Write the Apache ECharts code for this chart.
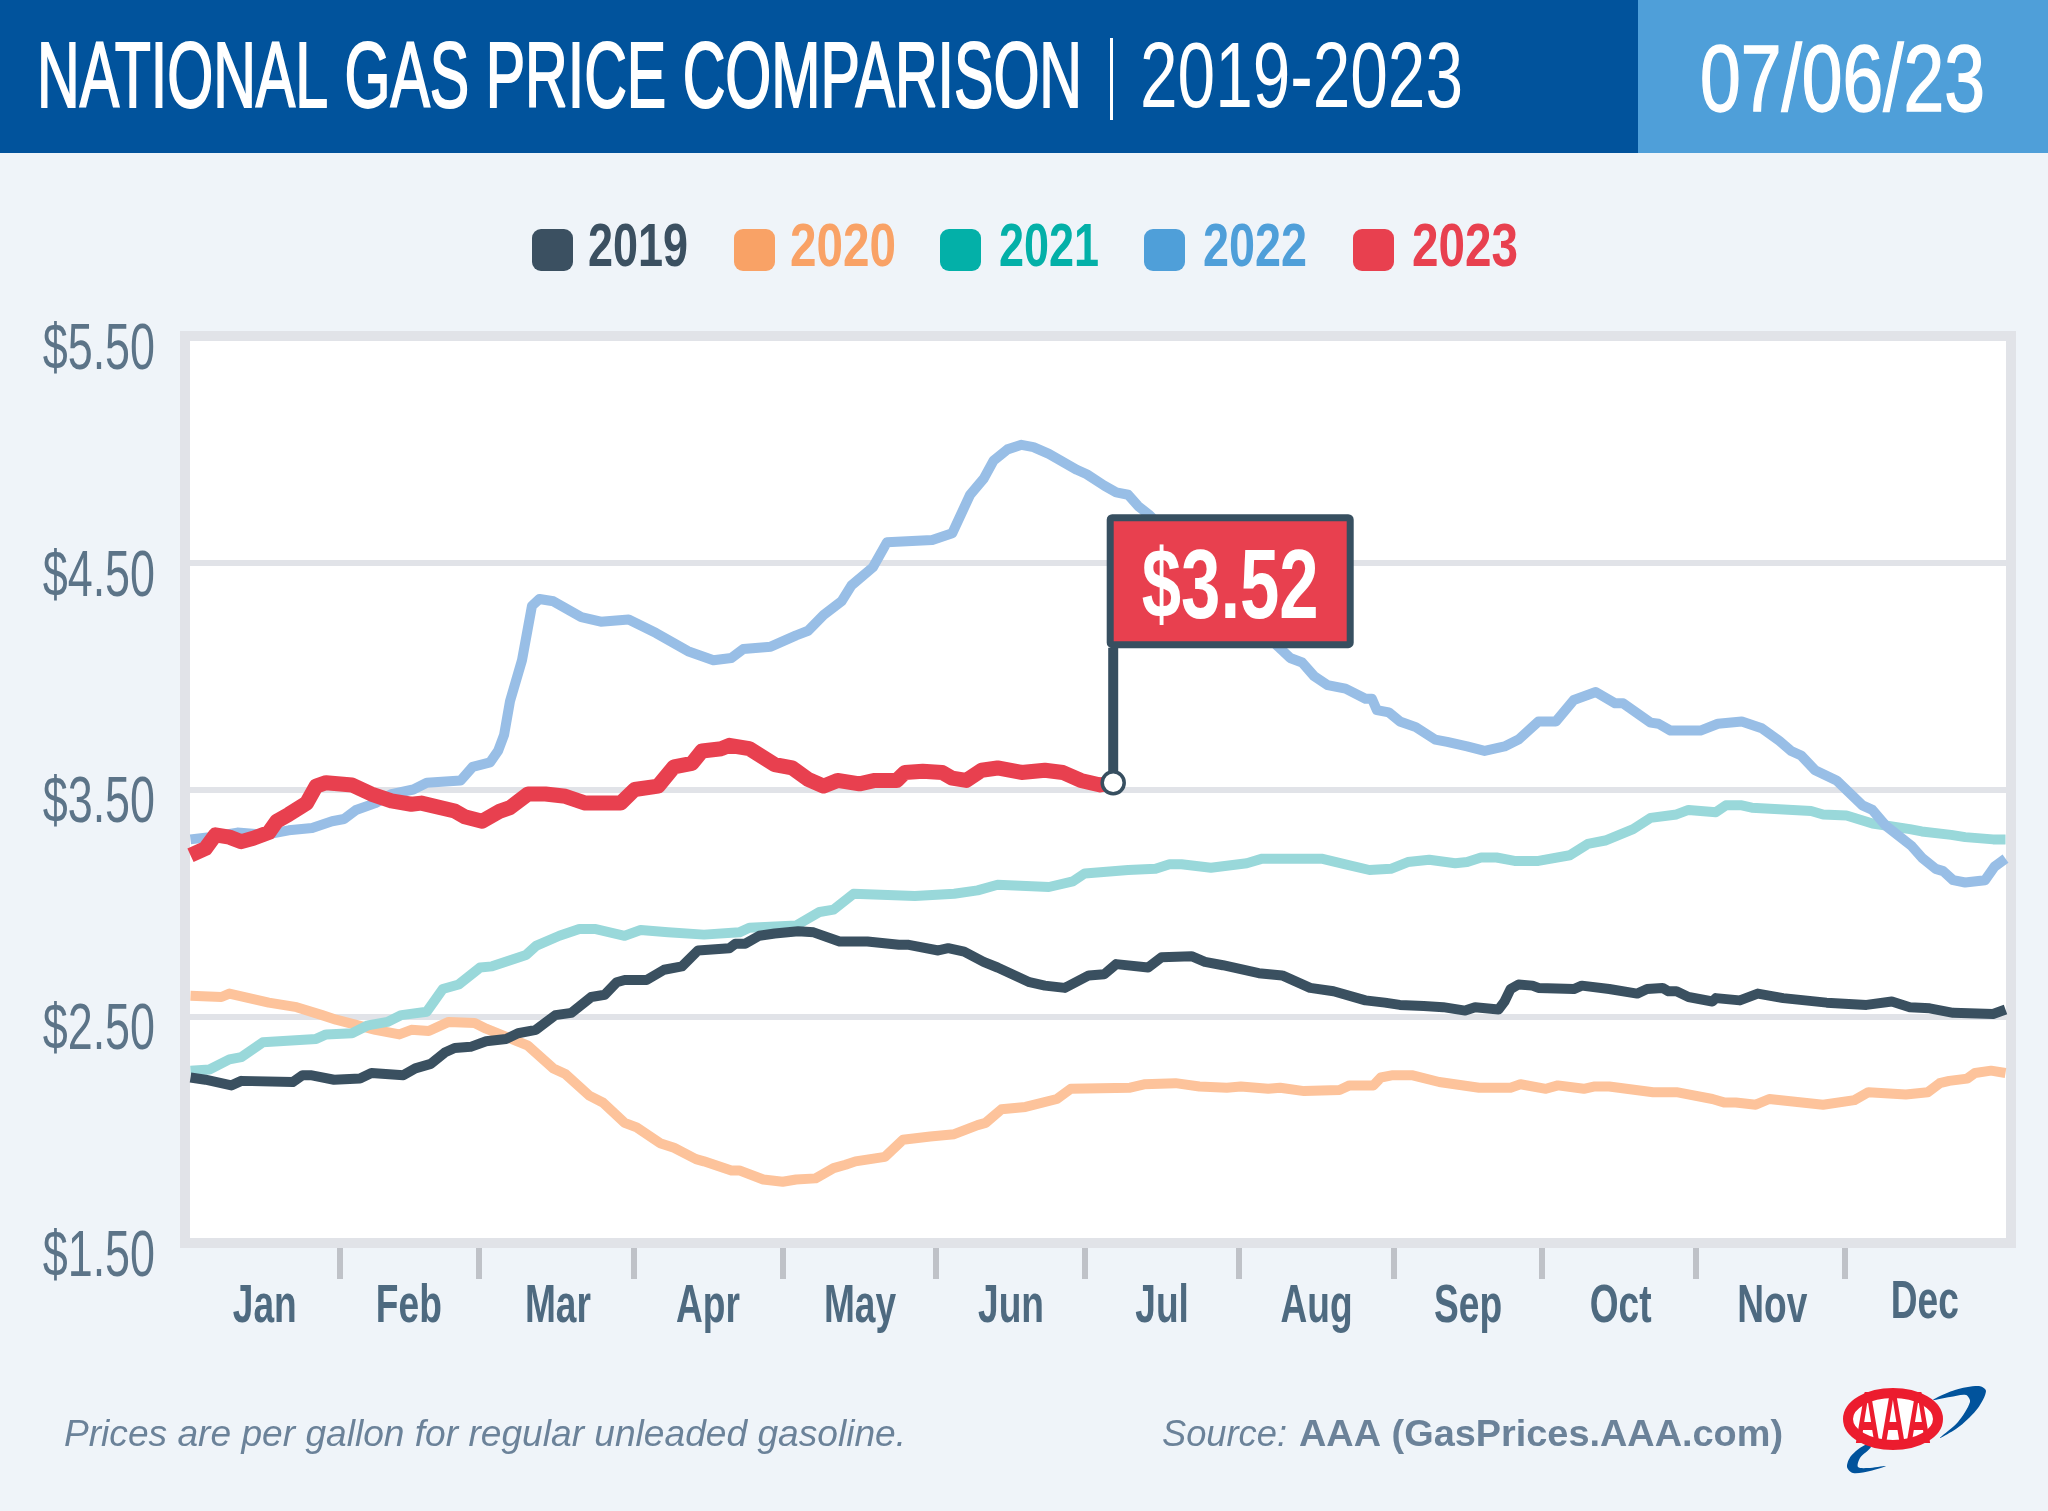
<!DOCTYPE html>
<html>
<head>
<meta charset="utf-8">
<title>National Gas Price Comparison</title>
<script src="https://cdn.jsdelivr.net/npm/echarts@6/dist/echarts.min.js"></script>
<style>
  html, body { margin: 0; padding: 0; background: #eff4f9; }
  #chart { width: 2048px; height: 1511px; }
</style>
</head>
<body>
<div id="chart"></div>
<script>
// 读图估算的数据：x 为一年中的第几天，y 为每加仑油价
const days2019 = [1.1,4.1,9.3,11.3,21.6,23.6,25.2,29.9,35.1,37.4,43.8,46.2,49.3,52.1,54.1,57.3,60.4,64.4,66.8,70.4,74.3,77.5,81.5,84.2,86.6,88.2,92.6,96.1,99.7,102.9,109.2,110.4,112.4,115.2,118.3,123,126.1,131.3,136.9,143.2,145.2,151.1,153.1,156.3,160.2,163,169.4,172.5,176.5,181.3,184.4,186.8,193.2,195.9,201.9,204.6,208.2,215.4,220.1,225.7,230.4,236.8,240.7,243.7,248.5,252.4,256.8,258.8,263.5,264.7,265.9,267.5,270.3,271.5,278.6,280.2,285.7,291.3,293.3,296.4,297.6,299.2,301.6,306.4,307.1,311.9,315.5,320.6,329.3,337.3,342.4,346,350,354.7,362.7,365.2];
const prices2019 = [2.23,2.22,2.195,2.215,2.21,2.24,2.24,2.22,2.225,2.25,2.24,2.27,2.29,2.34,2.36,2.365,2.39,2.40,2.425,2.44,2.505,2.515,2.585,2.595,2.65,2.66,2.66,2.705,2.72,2.79,2.80,2.82,2.82,2.855,2.865,2.875,2.87,2.83,2.83,2.815,2.815,2.79,2.80,2.785,2.74,2.715,2.65,2.635,2.625,2.68,2.685,2.73,2.715,2.76,2.765,2.74,2.725,2.69,2.68,2.625,2.61,2.57,2.56,2.55,2.545,2.54,2.525,2.54,2.53,2.565,2.62,2.64,2.635,2.625,2.62,2.635,2.62,2.60,2.62,2.625,2.61,2.61,2.585,2.565,2.58,2.57,2.60,2.58,2.56,2.55,2.565,2.54,2.535,2.515,2.51,2.53];

const days2020 = [1.1,7.3,8.9,16.8,22.4,27.5,30.3,38.2,43,45.4,48.9,52.9,58.1,60.4,68.8,73.9,76.3,81.1,83.8,88.2,90.6,95.3,98.1,102.5,104.1,109.6,111.2,116,119.9,122.6,126.5,130.1,132.5,134.5,140.4,144,149.5,154.3,159,160.6,163.8,168.6,174.9,177.7,189.6,192.4,198.7,203.5,209,211.8,217.3,219.7,224.5,231.6,233.6,238.4,239.9,242.3,246.1,251.6,259.6,265.9,267.9,273,275.4,280.6,282.6,285.7,294.5,299.2,306.4,308.7,311.1,315.1,317.8,328.6,334.9,337.7,345.2,349.6,352,353.9,357.5,359.1,362.3,365.2];
const prices2020 = [2.59,2.585,2.60,2.56,2.54,2.505,2.485,2.44,2.42,2.44,2.435,2.475,2.47,2.445,2.37,2.27,2.245,2.15,2.12,2.03,2.01,1.94,1.92,1.87,1.86,1.82,1.82,1.78,1.77,1.78,1.785,1.83,1.845,1.86,1.88,1.955,1.97,1.98,2.02,2.03,2.09,2.10,2.135,2.18,2.185,2.20,2.205,2.19,2.185,2.19,2.18,2.185,2.17,2.175,2.195,2.195,2.23,2.24,2.24,2.21,2.185,2.185,2.20,2.18,2.195,2.18,2.19,2.19,2.165,2.165,2.135,2.12,2.12,2.11,2.135,2.11,2.13,2.165,2.155,2.165,2.205,2.215,2.225,2.25,2.26,2.25];

const days2021 = [1.1,4.9,8.9,11.3,15.6,26.3,28.3,33.5,36.7,40.6,43.4,48.5,51.7,54.9,59.2,61.6,68.4,70.4,75.1,79.1,82.2,88.2,91.4,96.9,104.1,111.2,113.2,122.6,127.3,130.1,134.1,146.4,154.3,159,163,173.3,178.1,180.5,189.2,194.7,197.5,199.9,205.8,213,216.1,228,232.8,237.6,241.9,245.3,249.6,254.8,257.2,260,263.1,266.7,271.5,277.8,281.4,284.9,290.5,294,299.2,301.6,307.1,309.1,312.3,314.3,326.2,328.6,333.3,338.5,346,348.4,354.3,357.1,362.7,365.2];
const prices2021 = [2.26,2.265,2.31,2.32,2.385,2.40,2.42,2.425,2.46,2.475,2.505,2.52,2.62,2.64,2.715,2.72,2.77,2.81,2.855,2.885,2.885,2.855,2.88,2.87,2.86,2.87,2.89,2.90,2.96,2.97,3.04,3.03,3.04,3.055,3.08,3.07,3.095,3.13,3.145,3.15,3.17,3.17,3.155,3.175,3.195,3.195,3.17,3.145,3.15,3.18,3.19,3.175,3.18,3.20,3.20,3.185,3.185,3.21,3.26,3.275,3.325,3.375,3.39,3.41,3.40,3.43,3.43,3.42,3.405,3.39,3.385,3.35,3.325,3.315,3.30,3.29,3.28,3.28];

const days2022 = [1.1,4.9,10.5,16,20.8,25.5,29.5,31.9,34.3,38.2,41.4,45.8,48.5,55.3,57.7,61.2,62.8,64,65.2,67.6,69.6,71.1,73.9,79.5,83.4,89,94.5,100.9,106,109.6,112,117.5,122.6,125,128.1,131.7,133.7,138,140.8,149.9,153.9,157.5,160.2,162.2,165,167.8,170.2,173.3,178.9,180.9,184.4,186.8,189.2,191.2,193.5,219.3,221.7,224.1,226.5,229.2,232.8,236.8,238.1,239.1,241.5,243.7,246.9,250.8,253.2,257.2,260.7,264.7,267.5,271.5,275,278.6,283,286.9,288.5,294,295.6,298,304,307.5,312.3,316.3,319.8,322.2,324.2,327,331.3,336.5,338.5,341.2,346.4,348.4,351.2,352.7,354.7,357.1,361.1,363,365.2];
const prices2022 = [3.28,3.29,3.31,3.30,3.32,3.33,3.36,3.37,3.41,3.44,3.48,3.50,3.53,3.54,3.60,3.62,3.67,3.74,3.89,4.07,4.31,4.34,4.33,4.26,4.24,4.25,4.19,4.11,4.07,4.08,4.12,4.13,4.18,4.20,4.27,4.33,4.40,4.48,4.59,4.60,4.63,4.80,4.87,4.95,5.00,5.02,5.01,4.98,4.91,4.89,4.84,4.81,4.80,4.75,4.71,4.13,4.08,4.06,4.00,3.96,3.945,3.90,3.90,3.85,3.84,3.80,3.775,3.72,3.71,3.69,3.67,3.69,3.72,3.80,3.80,3.895,3.93,3.88,3.88,3.795,3.79,3.76,3.76,3.79,3.80,3.77,3.715,3.67,3.65,3.585,3.54,3.43,3.41,3.34,3.25,3.20,3.15,3.14,3.10,3.09,3.10,3.16,3.195];

const days2023 = [1.1,4.1,6.1,8.9,11.3,13.7,16.8,18.4,20.8,24.4,26.3,28.3,33.5,37.4,41.4,45.4,47.4,54.1,56.1,59.6,63.2,65.2,68.8,72.3,76.3,80.3,87.4,90.2,94.9,98.1,101.7,103.7,107.6,109.2,113.2,118.3,121.8,125,128.1,130.9,135.3,138.4,142.8,144.4,148,151.9,153.9,156.7,159.8,163,167.8,172.5,176.1,179.7,183.6,186.2];
const prices2023 = [3.21,3.24,3.30,3.29,3.27,3.285,3.31,3.36,3.39,3.44,3.515,3.53,3.52,3.48,3.45,3.435,3.44,3.405,3.38,3.36,3.405,3.42,3.48,3.48,3.47,3.44,3.44,3.50,3.515,3.60,3.615,3.67,3.68,3.695,3.68,3.61,3.595,3.545,3.515,3.54,3.525,3.54,3.54,3.575,3.58,3.575,3.55,3.54,3.585,3.595,3.575,3.585,3.575,3.54,3.52,3.53];

const yearNames = ['2019', '2020', '2021', '2022', '2023'];
const yearColors = ['#3b5061', '#f9a266', '#03b0a8', '#4f9fd9', '#e8404f'];
const lineColors = ['#3a5060', '#fdc39b', '#99d8da', '#98bee6', '#e8404f'];
const priceTicks = [1.5, 2.5, 3.5, 4.5, 5.5];
const monthNames = ['Jan', 'Feb', 'Mar', 'Apr', 'May', 'Jun', 'Jul', 'Aug', 'Sep', 'Oct', 'Nov', 'Dec'];
const monthMidDays = [16, 44.9, 74.8, 104.9, 135.4, 165.7, 196, 227, 257.4, 288, 318.4, 349];
const monthTickDays = [31, 59, 90, 120, 150.6, 180.5, 211.4, 242.5, 272.2, 303, 333];
const currentLabel = '$3.52';

const FONT = '"Liberation Sans"';
const measureCtx = document.createElement('canvas').getContext('2d');

// 没有窄体字，所以用 scaleX 把文字压到目标宽度
function scaleFor(text, font, width) {
  measureCtx.font = font;
  return width / measureCtx.measureText(text).width;
}

function fitText(text, left, capMid, width, weight, size, fill, strokeWidth) {
  const font = weight + ' ' + size + 'px ' + FONT;
  return {
    type: 'text',
    x: left,
    y: capMid + size * 0.076,
    scaleX: scaleFor(text, font, width),
    silent: true,
    style: {
      text: text,
      font: font,
      fill: fill,
      stroke: strokeWidth ? fill : null,
      lineWidth: strokeWidth || 0,
      align: 'left',
      verticalAlign: 'middle'
    }
  };
}

function lineSeries(i, days, prices, width, z) {
  return {
    type: 'line',
    name: yearNames[i],
    data: days.map((d, k) => [d, prices[k]]),
    showSymbol: false,
    symbol: 'none',
    z: z,
    lineStyle: { color: lineColors[i], width: width, join: 'round', cap: 'butt' },
    silent: true
  };
}

// 旗子：立杆、红色方框和终点圆圈都跟着最后一个点走
function renderFlag(params, api) {
  const p = api.coord([api.value(0), api.value(1)]);
  const font = 'bold 98px ' + FONT;
  return {
    type: 'group',
    x: p[0],
    y: p[1],
    children: [
      { type: 'rect', shape: { x: -5, y: -135, width: 10, height: 125 }, style: { fill: '#374f60' } },
      { type: 'rect', shape: { x: -3, y: -265, width: 240, height: 127, r: 2 }, style: { fill: '#e8404f', stroke: '#374f60', lineWidth: 7 } },
      { type: 'text', x: 117, y: -192, scaleX: scaleFor(currentLabel, font, 177), style: { text: currentLabel, font: font, fill: '#fff', align: 'center', verticalAlign: 'middle' } },
      { type: 'circle', shape: { cx: 0, cy: 0, r: 11 }, style: { fill: '#fff', stroke: '#374f60', lineWidth: 3.5 } }
    ]
  };
}

// 月份文字，位置由 x 轴换算
function renderMonthLabel(params, api) {
  const p = api.coord([api.value(0), 1.5]);
  const name = monthNames[params.dataIndex];
  const font = 'bold 53px ' + FONT;
  return {
    type: 'text',
    x: p[0],
    y: p[1] + (name === 'Dec' ? 60 : 64),
    scaleX: 0.7,
    style: { text: name, font: font, fill: '#4e6a80', align: 'center', verticalAlign: 'middle' }
  };
}

// 价格刻度文字，位置由 y 轴换算
function renderPriceLabel(params, api) {
  const p = api.coord([0, api.value(0)]);
  const text = '$' + api.value(0).toFixed(2);
  return {
    type: 'text',
    x: 155,
    y: p[1] + 15,
    scaleX: 0.69,
    style: { text: text, font: '65px ' + FONT, fill: '#5c7488', align: 'right', verticalAlign: 'middle' }
  };
}

// 图例：色块加压缩后的年份
const legendIconX = [532, 734, 940, 1144, 1353];
const legendTextX = [588, 790, 999, 1203, 1412];
const legendTextW = [100, 106, 100, 104, 106];

function legendElements() {
  const out = [];
  yearNames.forEach((name, i) => {
    out.push({ type: 'rect', silent: true, shape: { x: legendIconX[i], y: 229, width: 41, height: 42, r: 9 }, style: { fill: yearColors[i] } });
    out.push(fitText(name, legendTextX[i], 245, legendTextW[i], 'bold', 61, yearColors[i]));
  });
  return out;
}

const chart = echarts.init(document.getElementById('chart'));

const option = {
  animation: false,
  backgroundColor: '#eff4f9',
  grid: {
    show: true,
    left: 185,
    top: 336,
    width: 1826,
    height: 907,
    backgroundColor: '#fff',
    borderColor: '#e1e3e8',
    borderWidth: 10
  },
  xAxis: {
    type: 'value',
    min: 0,
    max: 366.3,
    offset: 5,
    axisLine: { show: false },
    splitLine: { show: false },
    axisTick: { show: true, customValues: monthTickDays, length: 31, lineStyle: { color: '#bfc2c8', width: 6 } },
    axisLabel: { show: false }
  },
  yAxis: {
    type: 'value',
    min: 1.5,
    max: 5.5,
    axisLine: { show: false },
    axisTick: { show: false, customValues: priceTicks },
    splitLine: { show: true, lineStyle: { color: '#e1e3e8', width: 6 } },
    axisLabel: { show: false, customValues: priceTicks }
  },
  series: [
    lineSeries(0, days2019, prices2019, 10, 4),
    lineSeries(1, days2020, prices2020, 10, 2),
    lineSeries(2, days2021, prices2021, 10, 3),
    lineSeries(3, days2022, prices2022, 10, 5),
    lineSeries(4, days2023, prices2023, 15, 6),
    {
      type: 'custom',
      z: 10,
      silent: true,
      renderItem: renderFlag,
      data: [[days2023[days2023.length - 1], prices2023[prices2023.length - 1]]]
    },
    { type: 'custom', z: 10, silent: true, renderItem: renderMonthLabel, data: monthMidDays.map((d) => [d]), encode: { x: 0 } },
    { type: 'custom', z: 10, silent: true, renderItem: renderPriceLabel, data: priceTicks.map((v) => [v]), encode: { y: 0 } }
  ],
  graphic: [
    { type: 'rect', silent: true, shape: { x: 0, y: 0, width: 1638, height: 153 }, style: { fill: '#01539c' } },
    { type: 'rect', silent: true, shape: { x: 1638, y: 0, width: 410, height: 153 }, style: { fill: '#4f9fd9' } },
    fitText('NATIONAL GAS PRICE COMPARISON', 37, 75, 1045, 'normal', 92, '#fff', 2),
    { type: 'rect', silent: true, shape: { x: 1110, y: 38, width: 3, height: 82 }, style: { fill: '#fff' } },
    fitText('2019-2023', 1140, 75, 323, 'normal', 92, '#fff'),
    fitText('07/06/23', 1700, 78, 285, 'normal', 94, '#fff', 1.5),
    fitText('Prices are per gallon for regular unleaded gasoline.', 64, 1433, 842, 'italic', 36, '#6b8299'),
    fitText('Source:', 1162, 1433, 125, 'italic', 36, '#6b8299'),
    fitText('AAA (GasPrices.AAA.com)', 1299, 1433, 484, 'bold', 36, '#6b8299'),
    // AAA 标志
    { type: 'polygon', silent: true, shape: { smooth: 0.3, points: [[1933,1400],[1955,1390],[1979,1386],[1986,1391],[1978,1408],[1960,1426],[1940,1438],[1958,1422],[1970,1402],[1966,1395],[1950,1397]] }, style: { fill: '#01539c' } },
    { type: 'polygon', silent: true, shape: { smooth: 0.3, points: [[1865,1445],[1851,1456],[1847,1467],[1853,1473],[1870,1471],[1886,1466],[1868,1468],[1858,1467],[1860,1458],[1871,1447]] }, style: { fill: '#01539c' } },
    { type: 'ellipse', silent: true, shape: { cx: 1893, cy: 1419, rx: 45, ry: 26 }, style: { fill: '#fff', stroke: '#ec1c2e', lineWidth: 10 } },
    fitText('AAA', 1855, 1417, 76, 'bold', 74, '#ec1c2e')
  ].concat(legendElements())
};

chart.setOption(option);
window.addEventListener('resize', () => chart.resize());
</script>
</body>
</html>
